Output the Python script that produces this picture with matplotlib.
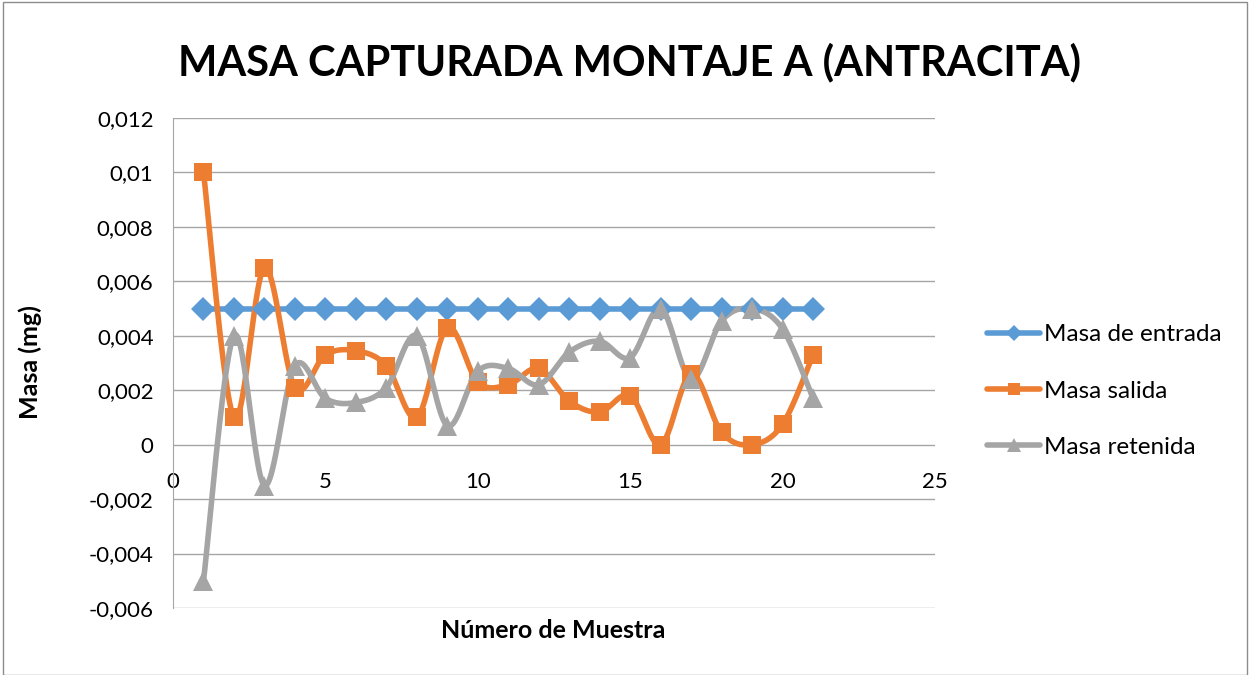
import numpy as np
import matplotlib
matplotlib.use("Agg")
import matplotlib.pyplot as plt
from matplotlib.patches import Rectangle

plt.rcParams['font.family'] = ['Lato', 'DejaVu Sans']

# datos
muestra = list(range(1, 22))
masa_entrada = [0.005] * 21
masa_salida = [0.010, 0.0010, 0.0065, 0.0021, 0.0033, 0.00345, 0.0029, 0.0010,
               0.0043, 0.0023, 0.0022, 0.0028, 0.0016, 0.0012, 0.0018, 0.0,
               0.0026, 0.00045, 0.0, 0.00075, 0.0033]
masa_retenida = [-0.005, 0.0040, -0.0015, 0.0029, 0.0017, 0.00155, 0.0021, 0.0040,
                 0.0007, 0.0027, 0.0028, 0.0022, 0.0034, 0.0038, 0.0032, 0.0050,
                 0.0024, 0.00455, 0.0050, 0.00425, 0.0017]
y_ticks = [-0.006, -0.004, -0.002, 0, 0.002, 0.004, 0.006, 0.008, 0.010, 0.012]
x_ticks = [0, 5, 10, 15, 20, 25]


def suavizar(x, y, n=30):
    # curva tipo Catmull-Rom, como la linea suavizada de Excel
    x = np.asarray(x, float)
    y = np.asarray(y, float)
    px = np.concatenate([[x[0]], x, [x[-1]]])
    py = np.concatenate([[y[0]], y, [y[-1]]])
    xs, ys = [], []
    t = np.linspace(0, 1, n)
    for i in range(1, len(px) - 2):
        p0, p1, p2, p3 = (np.array([px[j], py[j]]) for j in range(i - 1, i + 3))
        c1 = p1 + (p2 - p0) / 6
        c2 = p2 - (p3 - p1) / 6
        pts = ((1 - t) ** 3)[:, None] * p1 + (3 * (1 - t) ** 2 * t)[:, None] * c1 \
            + (3 * (1 - t) * t ** 2)[:, None] * c2 + (t ** 3)[:, None] * p2
        xs.extend(pts[:, 0])
        ys.extend(pts[:, 1])
    return xs, ys


fig = plt.figure(figsize=(12.51, 6.75), dpi=100)
ax = fig.add_axes([173 / 1251, 1 - 608 / 675, (935 - 173) / 1251, (608 - 118) / 675])
# el eje x cruza en y = 0
ax.spines['bottom'].set_position(('data', 0))
ax.spines['bottom'].set_visible(False)

series = [
    (masa_entrada, '#5B9BD5', 'D', 12, 'Masa de entrada'),
    (masa_salida, '#ED7D31', 's', 13, 'Masa salida'),
    (masa_retenida, '#A5A5A5', '^', 14, 'Masa retenida'),
]
handles = []
for vals, color, mk, ms, label in series:
    sx, sy = suavizar(muestra, vals)
    ax.plot(sx, sy, color=color, lw=4, solid_capstyle='round', zorder=3)
    ax.plot(muestra, vals, ls='none', marker=mk, ms=ms, color=color,
            markeredgewidth=0, zorder=4)
    h, = ax.plot([], [], color=color, lw=4, marker=mk, ms=ms * 0.7,
                 markeredgewidth=0, solid_capstyle='round')
    handles.append((h, label))

ax.set_xlim(0, 25)
ax.set_ylim(-0.006, 0.012)
ax.set_yticks(y_ticks)
ax.set_yticklabels([f"{v:g}".replace('.', ',') for v in y_ticks], fontsize=16)
ax.set_xticks(x_ticks)
ax.set_xticklabels([str(v) for v in x_ticks], fontsize=16)
ax.tick_params(length=0)
ax.tick_params(axis='y', pad=14)
ax.tick_params(axis='x', pad=20)
ax.grid(axis='y', color='#A6A6A6', lw=1)
ax.set_axisbelow(True)
for s in ['top', 'right']:
    ax.spines[s].set_visible(False)
ax.spines['left'].set_color('#A6A6A6')

fig.text(30 / 1251, 1 - 362 / 675, 'Masa (mg)', fontsize=18, fontweight='bold',
         rotation=90, ha='center', va='center')
fig.text(553 / 1251, 1 - 631 / 675, 'Número de Muestra', fontsize=18,
         fontweight='bold', ha='center', va='center')
fig.text(630 / 1251, 1 - 62 / 675, 'MASA CAPTURADA MONTAJE A (ANTRACITA)',
         fontsize=30, fontweight='bold', ha='center', va='center')

fig.legend([h for h, _ in handles], [l for _, l in handles],
           loc='center left', bbox_to_anchor=(965 / 1251, 1 - 391 / 675),
           frameon=False, fontsize=17.5, handlelength=2.2, handletextpad=0.15,
           labelspacing=1.45)

fig.patches.append(Rectangle((3 / 1251, 0), 1244 / 1251, 0.997, transform=fig.transFigure,
                             fill=False, edgecolor='#8C8C8C', lw=1))

fig.savefig('out.png', dpi=100)
